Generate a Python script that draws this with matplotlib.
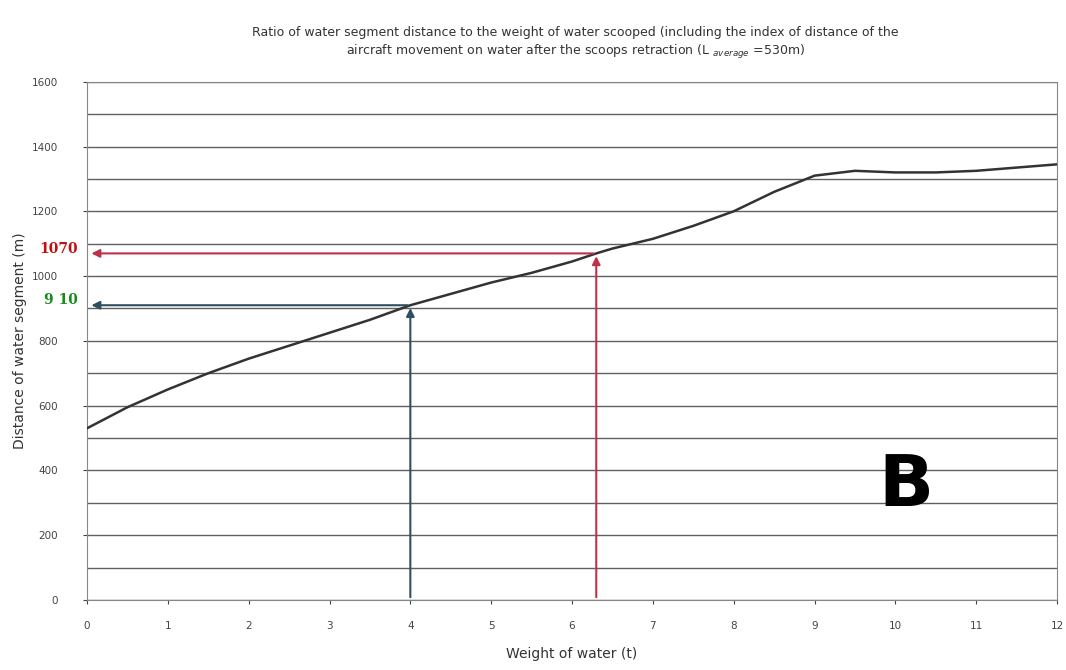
import matplotlib
matplotlib.use("Agg")
import matplotlib.pyplot as plt
import numpy as np

# Data
weight_t = [0, 0.5, 1, 1.5, 2, 2.5, 3, 3.5, 4, 4.5, 5, 5.5, 6, 6.3, 6.5, 7, 7.5, 8, 8.5, 9, 9.5, 10, 10.5, 11, 11.5, 12]
distance_m = [530, 595, 650, 700, 745, 785, 825, 865, 910, 945, 980, 1010, 1045, 1070, 1085, 1115, 1155, 1200, 1260, 1310, 1325, 1320, 1320, 1325, 1335, 1345]

mark_x = [4.0, 6.3]
mark_y = [910, 1070]
mark_labels = ["9 10", "1070"]
mark_colors = ["#2f4f5f", "#c0304a"]
label_colors = ["#1a8a1a", "#c01010"]

x_ticks = list(range(0, 13))
y_ticks = list(range(0, 1601, 200))
y_grid = list(range(0, 1601, 100))

title = ("Ratio of water segment distance to the weight of water scooped (including the index of distance of the\n"
         "aircraft movement on water after the scoops retraction (L $_{average}$ =530m)")

fig = plt.figure(figsize=(10.66, 6.7), dpi=100)
ax = fig.add_axes([0.0816, 0.1045, 0.910, 0.7735])

for g in y_grid:
    ax.axhline(g, color="#606060", lw=1.0, zorder=1)

ax.plot(weight_t, distance_m, color="#333333", lw=1.8, zorder=3)

for xm, ym, c in zip(mark_x, mark_y, mark_colors):
    ax.annotate("", xy=(xm, ym), xytext=(xm, 0),
                arrowprops=dict(arrowstyle="-|>", color=c, lw=1.5, mutation_scale=12), zorder=4)
    ax.annotate("", xy=(0.02, ym), xytext=(xm, ym),
                arrowprops=dict(arrowstyle="-|>", color=c, lw=1.5, mutation_scale=12), zorder=4)

for ym, lab, c in zip(mark_y, mark_labels, label_colors):
    ax.text(-0.009, ym + 15, lab, transform=ax.get_yaxis_transform(), ha="right", va="center",
            color=c, fontsize=10, fontfamily="DejaVu Serif", fontweight="bold")

ax.set_xlim(0, 12)
ax.set_ylim(0, 1600)
ax.set_xticks(x_ticks)
ax.set_yticks(y_ticks)
ax.tick_params(axis="y", labelsize=7.5, colors="#444444", length=3, pad=18)
ax.tick_params(axis="x", labelsize=7.5, colors="#444444", length=3, pad=12)
for s in ax.spines.values():
    s.set_color("#888888")

ax.set_xlabel("Weight of water (t)", fontsize=10, color="#333333", labelpad=12)
ax.set_ylabel("Distance of water segment (m)", fontsize=10, color="#333333")
ax.yaxis.set_label_coords(-0.062, 0.5)
fig.text(0.54, 0.935, title, ha="center", va="center", fontsize=9, color="#333333", linespacing=1.4)

ax.text(10.13, 350, "B", fontsize=52, fontweight="bold", ha="center", va="center", color="black", zorder=5)

fig.savefig("out.png", dpi=100)
